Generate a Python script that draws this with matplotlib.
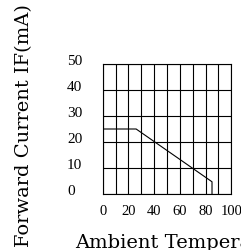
import matplotlib
matplotlib.use('Agg')
import matplotlib.pyplot as plt

# derating curve
temp = [0, 26, 85, 85]
current = [25, 25, 4.7, 0]

x_grid = list(range(0, 101, 10))
x_labels = ['0', '', '20', '', '40', '', '60', '', '80', '', '100']
y_grid = [0, 10, 20, 30, 40, 50]
y_labels = ['0', '10', '20', '30', '40', '50']

fig = plt.figure(figsize=(2.41, 2.51), dpi=100)
ax = fig.add_axes([102.7 / 241, 1 - 195 / 251, 128.6 / 241, 130 / 251])

ax.plot(temp, current, color='black', lw=0.8, solid_joinstyle='miter')

ax.set_xlim(0, 100)
ax.set_ylim(0, 50)
ax.set_xticks(x_grid)
ax.set_xticklabels(x_labels, family='Liberation Serif', fontsize=10.5)
ax.set_yticks(y_grid)
ax.set_yticklabels(y_labels, family='Liberation Serif', fontsize=11,
                   ha='left', va='baseline')
ax.tick_params(axis='x', length=0, pad=7)
ax.tick_params(axis='y', length=0, pad=25.7)
ax.grid(True, color='black', lw=0.8)
for s in ax.spines.values():
    s.set_linewidth(0.8)
    s.set_color('black')

fig.text(24 / 241, 1 - 126 / 251, 'Forward Current IF(mA)', rotation=90,
         ha='center', va='center', family='DejaVu Serif', fontsize=14)
fig.text(75 / 241, 1 - 248 / 251, 'Ambient Temperature Ta(°C)',
         ha='left', va='baseline', family='DejaVu Serif', fontsize=14)

fig.savefig('out.png', dpi=100)
